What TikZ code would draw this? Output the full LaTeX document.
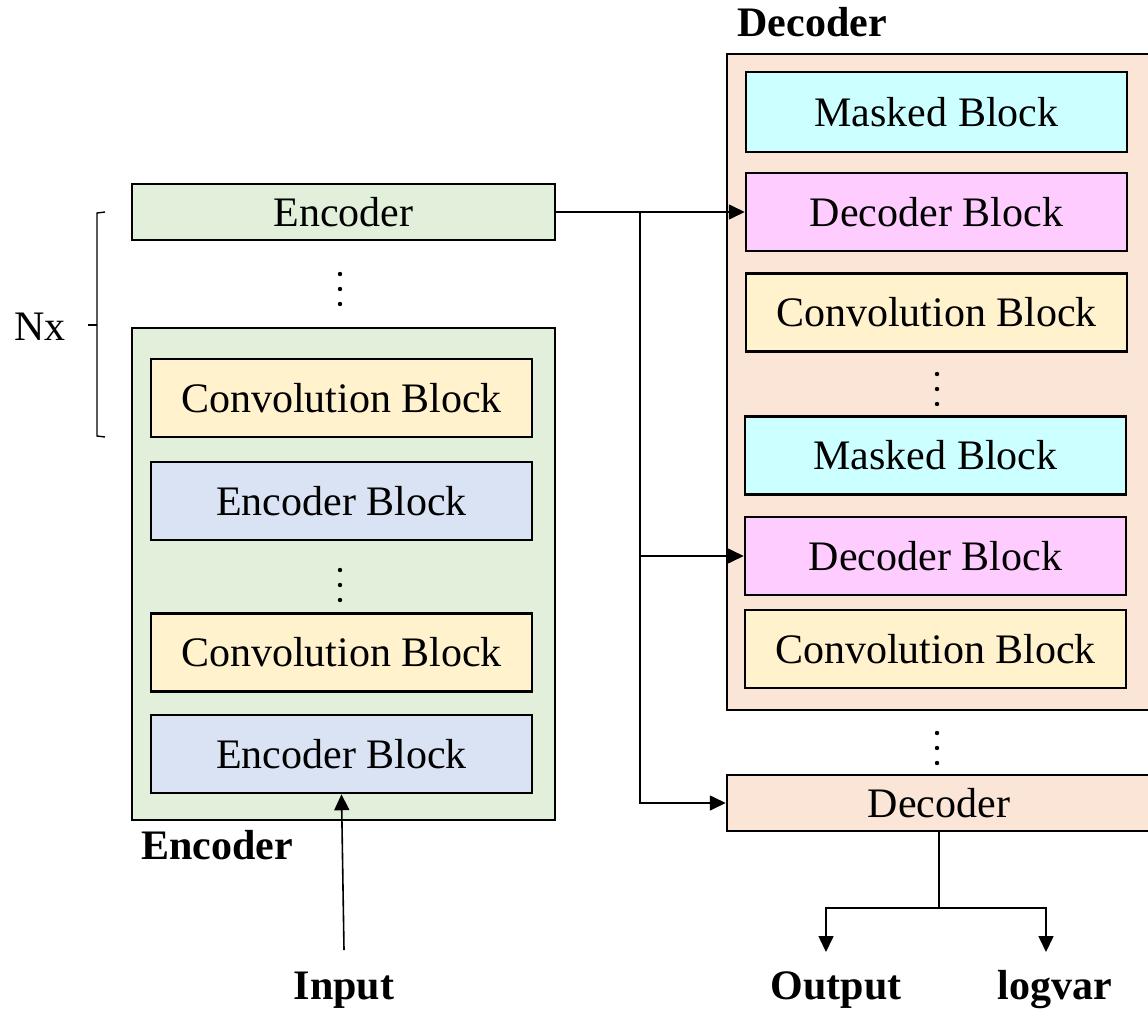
\documentclass[tikz,border=0pt]{standalone}
\usepackage{fontspec}
\setmainfont{Liberation Serif}
\usetikzlibrary{arrows.meta}
\definecolor{encgreen}{HTML}{E2EFDA}
\definecolor{convyellow}{HTML}{FFF2CC}
\definecolor{encblue}{HTML}{DAE3F3}
\definecolor{decpeach}{HTML}{FBE5D6}
\definecolor{maskcyan}{HTML}{CCFFFF}
\definecolor{decpink}{HTML}{FFCCFF}
\begin{document}
\begin{tikzpicture}[x=1pt,y=-1pt,
  every node/.style={font=\fontsize{42}{50}\selectfont, inner sep=0pt},
  blk/.style={draw, line width=2.5pt, minimum width=381pt, minimum height=78pt},
  wide/.style={draw, line width=2.5pt, minimum width=423pt, minimum height=56pt},
  cont/.style={draw, line width=2.5pt},
  lbl/.style={font=\fontsize{42}{50}\selectfont\bfseries},
  conn/.style={line width=1.6pt},
  arr/.style={line width=1.6pt, -{Triangle[length=16pt,width=15pt]}},
  dotc/.style={fill=black, radius=2.2pt}
]
\useasboundingbox (0,0) rectangle (1148,1014);

% ---------- Encoder side ----------
\node[wide, fill=encgreen] (enctop) at (343.5,212) {Encoder};
\fill[dotc] (340,274) circle; \fill[dotc] (340,289) circle; \fill[dotc] (340,304) circle;

\node[cont, fill=encgreen, minimum width=423pt, minimum height=492pt] (encc) at (343.5,574) {};
\node[blk, fill=convyellow] (c1) at (341.5,398) {Convolution Block};
\node[blk, fill=encblue] (e1) at (341.5,501) {Encoder Block};
\fill[dotc] (340,570) circle; \fill[dotc] (340,585) circle; \fill[dotc] (340,600) circle;
\node[blk, fill=convyellow] (c2) at (341.5,652.5) {Convolution Block};
\node[blk, fill=encblue] (e2) at (341.5,754) {Encoder Block};
\node[lbl] (enclbl) at (217,845) {Encoder};

\node[lbl] (input) at (344,990) {Input};
\coordinate (inp) at (344,950);
\draw[arr] (inp) -- (e2.south);

% Nx bracket
\node (nx) at (40,327) {Nx};
\draw[line width=1.4pt] (105,212) -- (97,213) -- (97,436) -- (105,437);
\coordinate (brm) at (97,325);
\draw[line width=1.4pt] (brm) -- (88,325);

% ---------- Decoder side ----------
\node[lbl] (declbl) at (812,22) {Decoder};
\node[cont, fill=decpeach, minimum width=440pt, minimum height=656pt] (decc) at (947,382) {};
\node[blk, fill=maskcyan, minimum height=80pt] (m1) at (936.5,112) {Masked Block};
\node[blk, fill=decpink] (d1) at (936.5,212) {Decoder Block};
\node[blk, fill=convyellow] (cv1) at (936.5,312.5) {Convolution Block};
\fill[dotc] (937,374) circle; \fill[dotc] (937,389) circle; \fill[dotc] (937,404) circle;
\node[blk, fill=maskcyan] (m2) at (935.5,455.5) {Masked Block};
\node[blk, fill=decpink] (d2) at (935.5,556) {Decoder Block};
\node[blk, fill=convyellow] (cv2) at (935.5,649) {Convolution Block};
\fill[dotc] (937,733) circle; \fill[dotc] (937,748) circle; \fill[dotc] (937,763) circle;

\node[cont, fill=decpeach, minimum width=440pt, minimum height=56pt] (decs) at (947,803) {};
\node (decstxt) at (939,803) {Decoder};

% connectors
\coordinate (jt) at (640,212);
\draw[arr] (enctop.east) -- (d1.west);
\draw[conn] (jt) -- (640,556);
\draw[arr] (jt |- d2.west) -- (d2.west);
\draw[arr] (640,555) |- (decs.west);

\coordinate (dsb) at (939,831);
\coordinate (split) at (939,908);
\coordinate (o1) at (826,952);
\coordinate (l1) at (1046,952);
\draw[conn] (dsb) -- (split);
\draw[arr] (split) -| (o1);
\draw[arr] (split) -| (l1);

\node[lbl] (out) at (836,990) {Output};
\node[lbl] (logv) at (1055,990) {logvar};
\end{tikzpicture}
\end{document}
